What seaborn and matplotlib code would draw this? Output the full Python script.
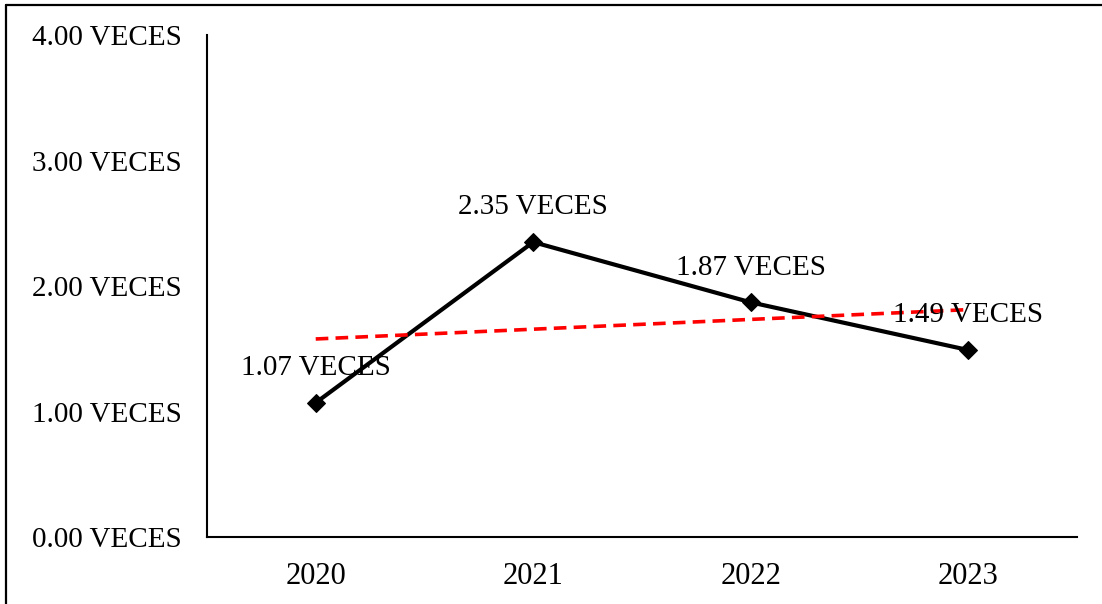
import matplotlib
matplotlib.use("Agg")
import matplotlib.pyplot as plt
from matplotlib.lines import Line2D
import numpy as np
import pandas as pd
import seaborn as sns

# datos
years = ["2020", "2021", "2022", "2023"]
veces = [1.07, 2.35, 1.87, 1.49]
y_ticks = [0, 1, 2, 3, 4]

df = pd.DataFrame({"idx": np.arange(len(years)), "year": years, "veces": veces})

sns.set_style("white")
plt.rcParams["font.family"] = ["Liberation Serif", "DejaVu Serif"]

fig = plt.figure(figsize=(11.02, 6.04), dpi=100)
ax = fig.add_axes([0.1878, 0.1109, 0.7895, 0.8311])

# linea principal
sns.lineplot(data=df, x="idx", y="veces", ax=ax, color="black", linewidth=3.0,
             marker="D", markersize=9, markeredgecolor="black")

# linea de tendencia lineal
sns.regplot(data=df, x="idx", y="veces", ax=ax, scatter=False, ci=None,
            truncate=True, line_kws={"color": "#ff0000", "linestyle": (0, (3.5, 2)),
                                     "linewidth": 2.6, "zorder": 3})

for i, v in enumerate(veces):
    ax.annotate("{:.2f} VECES".format(v), (i, v), xytext=(0, 25),
                textcoords="offset points", ha="center", va="center",
                fontsize=21, color="black")

ax.set_xlim(-0.5, 3.5)
ax.set_ylim(0, 4)
ax.set_xticks(df["idx"])
ax.set_xticklabels(years)
ax.set_yticks(y_ticks)
ax.set_yticklabels(["{:.2f} VECES".format(t) for t in y_ticks])
ax.tick_params(axis="both", labelsize=21, length=0, colors="black")
ax.tick_params(axis="y", pad=18)
ax.tick_params(axis="x", pad=18)
for lab in ax.get_xticklabels():
    lab.set_fontsize(22)
ax.set_xlabel("")
ax.set_ylabel("")

for s in ["top", "right"]:
    ax.spines[s].set_visible(False)
for s in ["left", "bottom"]:
    ax.spines[s].set_color("black")
    ax.spines[s].set_linewidth(1.5)

# marco exterior (izquierda y arriba)
fig.add_artist(Line2D([6 / 1102, 6 / 1102], [0, 1 - 5 / 604], color="black", linewidth=1.6))
fig.add_artist(Line2D([6 / 1102, 1], [1 - 5 / 604, 1 - 5 / 604], color="black", linewidth=1.6))

fig.savefig("out.png", dpi=100)
